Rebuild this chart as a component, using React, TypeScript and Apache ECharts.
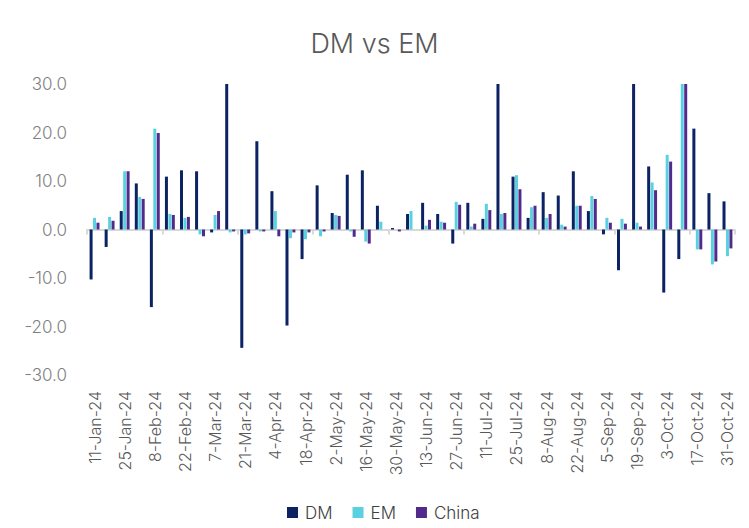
import React, { useEffect, useRef } from "react";
import * as echarts from "echarts";

const categories = [
  "11-Jan-24", "18-Jan-24", "25-Jan-24", "1-Feb-24", "8-Feb-24", "15-Feb-24", "22-Feb-24", "29-Feb-24",
  "7-Mar-24", "14-Mar-24", "21-Mar-24", "28-Mar-24", "4-Apr-24", "11-Apr-24", "18-Apr-24", "25-Apr-24",
  "2-May-24", "9-May-24", "16-May-24", "23-May-24", "30-May-24", "6-Jun-24", "13-Jun-24", "20-Jun-24",
  "27-Jun-24", "4-Jul-24", "11-Jul-24", "18-Jul-24", "25-Jul-24", "1-Aug-24", "8-Aug-24", "15-Aug-24",
  "22-Aug-24", "29-Aug-24", "5-Sep-24", "12-Sep-24", "19-Sep-24", "26-Sep-24", "3-Oct-24", "10-Oct-24",
  "17-Oct-24", "24-Oct-24", "31-Oct-24",
];

const dmValues = [
  -10.3, -3.6, 3.8, 9.5, -16.0, 10.9, 12.2, 12.0,
  -0.6, 30.0, -24.4, 18.2, 7.9, -19.8, -6.1, 9.1,
  3.4, 11.3, 12.2, 4.9, 0.3, 3.2, 5.5, 3.2,
  -2.9, 5.5, 2.2, 30.0, 10.9, 2.4, 7.7, 7.0,
  12.0, 3.8, -1.0, -8.4, 30.0, 13.0, -13.0, -6.1,
  20.8, 7.5, 5.8,
];

const emValues = [
  2.4, 2.6, 12.0, 6.7, 20.8, 3.2, 2.4, -1.0,
  3.0, -0.6, -1.0, -0.4, 3.8, -1.8, -2.0, -1.4,
  3.0, -0.4, -2.5, 1.6, 0.0, 3.8, 0.8, 1.6,
  5.7, 0.6, 5.3, 3.2, 11.2, 4.6, 2.4, 1.0,
  4.9, 6.9, 2.4, 2.2, 1.4, 9.7, 15.4, 30.0,
  -4.1, -7.2, -5.5,
];

const chinaValues = [
  1.4, 1.8, 12.0, 6.3, 19.9, 3.0, 2.6, -1.4,
  3.8, -0.4, -0.8, -0.4, -1.4, -0.6, -0.6, -0.4,
  2.8, -1.5, -2.9, 0.0, -0.4, 0.0, 2.0, 1.4,
  5.1, 1.2, 4.0, 3.4, 8.3, 4.9, 3.2, 0.6,
  4.9, 6.3, 1.4, 1.2, 0.6, 8.1, 14.0, 30.0,
  -4.1, -6.6, -3.9,
];

const yMin = -30;
const yMax = 30;
const yInterval = 10;

const FONT = "Inter, 'Open Sans', sans-serif";

export default function App() {
  const ref = useRef<HTMLDivElement>(null);

  useEffect(() => {
    if (!ref.current) return;
    const chart = echarts.init(ref.current, undefined, { renderer: "svg" });
    const barW = 3;
    chart.setOption({
      animation: false,
      backgroundColor: "#ffffff",
      title: {
        text: "DM vs EM",
        left: "center",
        top: 25,
        textStyle: {
          fontFamily: FONT,
          fontSize: 27,
          fontWeight: 300,
          color: "#595959",
        },
      },
      legend: {
        bottom: 2,
        left: 282,
        itemWidth: 11,
        itemHeight: 11,
        itemGap: 20,
        icon: "rect",
        textStyle: { fontFamily: FONT, fontSize: 17, fontWeight: 300, color: "#404040", padding: [0, 0, 0, 2] },
        data: ["DM", "EM", "China"],
      },
      grid: { left: 87, right: 14, top: 84, bottom: 153, containLabel: false },
      xAxis: [
        {
          type: "category",
          data: categories,
          position: "bottom",
          axisLine: { show: true, onZero: true, lineStyle: { color: "#d9d9d9", width: 2 } },
          axisTick: { show: true, alignWithLabel: false, length: 5, lineStyle: { color: "#d9d9d9", width: 2 } },
          axisLabel: { show: false },
          splitLine: { show: false },
        },
        {
          type: "category",
          data: categories,
          position: "bottom",
          axisLine: { show: false, onZero: false },
          axisTick: { show: false },
          axisLabel: {
            show: true,
            interval: 1,
            rotate: 90,
            margin: 16,
            fontFamily: FONT,
            fontSize: 16,
            fontWeight: 300,
            color: "#595959",
          },
          splitLine: { show: false },
        },
      ],
      yAxis: {
        type: "value",
        min: yMin,
        max: yMax,
        interval: yInterval,
        axisLine: { show: false },
        axisTick: { show: false },
        splitLine: { show: false },
        axisLabel: {
          margin: 20,
          fontFamily: FONT,
          fontSize: 17,
          fontWeight: 300,
          color: "#7f7f7f",
          formatter: (v: number) => v.toFixed(1),
        },
      },
      series: [
        {
          name: "DM",
          type: "bar",
          xAxisIndex: 0,
          data: dmValues,
          barWidth: barW,
          barGap: "15%",
          itemStyle: { color: "#0b2263" },
          clip: true,
        },
        {
          name: "EM",
          type: "bar",
          xAxisIndex: 0,
          data: emValues,
          barWidth: barW,
          barGap: "15%",
          itemStyle: { color: "#5ad0e0" },
          clip: true,
        },
        {
          name: "China",
          type: "bar",
          xAxisIndex: 0,
          data: chinaValues,
          barWidth: barW,
          barGap: "15%",
          itemStyle: { color: "#522a8c" },
          clip: true,
        },
      ],
    });
    return () => chart.dispose();
  }, []);

  return (
    <div
      ref={ref}
      style={{ position: "fixed", left: 0, top: 0, width: 749, height: 528, background: "#fff" }}
    />
  );
}
